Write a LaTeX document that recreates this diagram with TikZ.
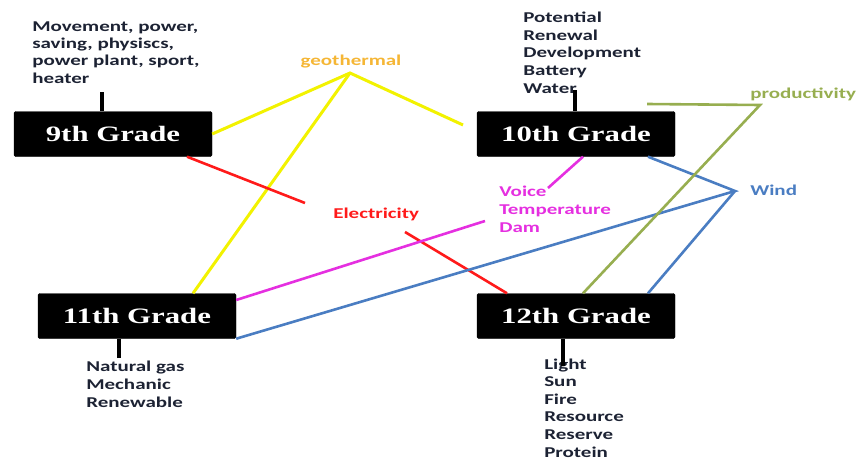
\documentclass[tikz,border=0pt]{standalone}
\usepackage{fontspec}
\setmainfont{Carlito}
\newfontfamily\boxfont{Liberation Serif}
\usetikzlibrary{calc}
\definecolor{listc}{HTML}{1C2233}
\definecolor{geoc}{HTML}{F5B635}
\definecolor{yelc}{HTML}{F2F200}
\definecolor{elec}{HTML}{FF1A1A}
\definecolor{magc}{HTML}{E52FE0}
\definecolor{windc}{HTML}{4A7DC2}
\definecolor{prodc}{HTML}{97AE50}
\tikzset{
  gradebox/.style={fill=black, draw=black, rounded corners=1.5pt, minimum width=198pt, minimum height=45pt, inner sep=0pt, text=white, font=\boxfont\bfseries\fontsize{22}{24}\selectfont},
  listtxt/.style={anchor=base west, inner sep=0pt, align=left, xscale=1.4, text=listc, font=\bfseries\fontsize{15}{17.6}\selectfont},
  lbl/.style={anchor=base west, inner sep=0pt, align=left, xscale=1.4, font=\bfseries\fontsize{15}{17.6}\selectfont},
  stem/.style={line width=3.5pt, draw=black},
  conn/.style={line width=2.6pt}
}
\begin{document}
\begin{tikzpicture}[x=1pt,y=-1pt]
\useasboundingbox (0,0) rectangle (858,460);
% grade boxes
\node[gradebox] (g9) at (113,134) {\scalebox{1.4}[1]{9th Grade}};
\node[gradebox] (g10) at (576,134) {\scalebox{1.4}[1]{10th Grade}};
\node[gradebox] (g11) at (137,316) {\scalebox{1.4}[1]{11th Grade}};
\node[gradebox] (g12) at (576,316) {\scalebox{1.4}[1]{12th Grade}};
% word lists (anchored at the baseline of the last line)
\node[listtxt, font=\bfseries\fontsize{15}{17.3}\selectfont] (t9) at (32,83) {Movement, power,\\saving, physiscs,\\power plant, sport,\\heater};
\node[listtxt] (t10) at (523,93) {Potential\\Renewal\\Development\\Battery\\Water};
\node[listtxt] (t11) at (86,407) {Natural gas\\Mechanic\\Renewable};
\node[listtxt] (t12) at (544,457) {Light\\Sun\\Fire\\Resource\\Reserve\\Protein};
% stems
\coordinate (s9) at (102,92);
\coordinate (s10) at (575,90);
\coordinate (s11) at (119,358);
\coordinate (s12) at (563,366);
\draw[stem] (s9) -- (s9 |- g9.north);
\draw[stem] (s10) -- (s10 |- g10.north);
\draw[stem] (s11) -- (s11 |- g11.south);
\draw[stem] (s12) -- (s12 |- g12.south);
% labels
\node[lbl, text=geoc, anchor=base] (geo) at (351,65) {geothermal};
\node[lbl, text=elec] (elc) at (333,218) {Electricity};
\node[lbl, text=magc] (voice) at (499,232) {Voice\\Temperature\\Dam};
\node[lbl, text=windc] (wind) at (750,195) {Wind};
\node[lbl, text=prodc] (prod) at (750,98) {productivity};
% free-end coordinates
\coordinate (geoapex) at (350,73);
\coordinate (geoend) at (463,125);
\coordinate (elA) at (305,203);
\coordinate (elB) at (405,232);
\coordinate (voA) at (548,188);
\coordinate (voB) at (485,221);
\coordinate (windapex) at (735,191);
\coordinate (prodstart) at (647,104);
\coordinate (prodapex) at (760,105);
% geothermal (yellow)
\draw[conn, yelc, line width=3pt] (g9.east) -- (geoapex) -- (geoend);
\draw[conn, yelc, line width=3pt] (geoapex) -- ([xshift=56pt]g11.north);
% electricity (red)
\draw[conn, elec] ([xshift=74pt]g9.south) -- (elA);
\draw[conn, elec] (elB) -- ([xshift=-69pt]g12.north);
% voice (magenta)
\draw[conn, magc] ([xshift=7pt]g10.south) -- (voA);
\draw[conn, magc] ([yshift=16pt]g11.east) -- (voB);
% wind (blue)
\draw[conn, windc] ([xshift=72pt]g10.south) -- (windapex) -- (g11.south east);
\draw[conn, windc] (windapex) -- ([xshift=72pt]g12.north);
% productivity (green)
\draw[conn, prodc] (prodstart) -- (prodapex) -- ([xshift=7pt]g12.north);
\end{tikzpicture}
\end{document}
